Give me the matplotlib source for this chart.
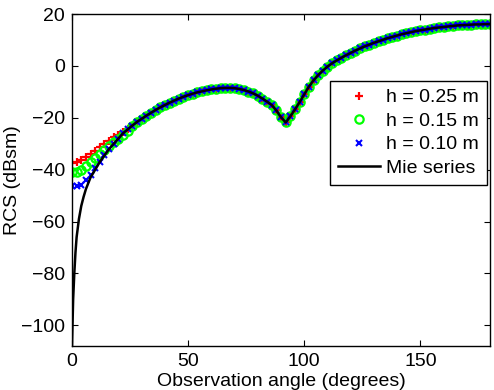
import numpy as np
import matplotlib
matplotlib.use('Agg')
import matplotlib.pyplot as plt

plt.rcParams['font.family'] = ['Liberation Sans', 'DejaVu Sans']

# Sampled observation angles (degrees) for the simulated data
angles = np.arange(0, 181, 2)

# Mie series values at the same angles (dBsm)
mie_vals = [
    -108.0, -66.0, -54.0, -47.5, -43.0, -40.0, -37.0, -34.5, -32.0, -30.0,
    -28.0, -26.0, -24.5, -23.0, -21.6, -20.4, -19.2, -18.1, -17.0, -16.0,
    -15.1, -14.2, -13.4, -12.6, -11.9, -11.3, -10.7, -10.2, -9.8, -9.4,
    -9.1, -8.8, -8.6, -8.5, -8.5, -8.6, -8.9, -9.3, -9.9, -10.6,
    -11.5, -12.6, -13.8, -15.1, -17.2, -19.8, -21.8, -19.5, -16.8, -14.0,
    -11.0, -8.0, -5.6, -3.6, -1.8, -0.3, 1.0, 2.1, 3.1, 4.1,
    5.0, 5.9, 6.7, 7.5, 8.2, 8.9, 9.5, 10.1, 10.7, 11.2,
    11.7, 12.2, 12.6, 13.0, 13.4, 13.7, 14.0, 14.3, 14.6, 14.8,
    15.0, 15.2, 15.4, 15.6, 15.7, 15.8, 15.9, 16.0, 16.0, 16.1,
    16.1,
]

# extra Mie points close to 0 deg where the curve falls steeply
mie_fine_angles = [0.0, 0.5, 1.0, 1.5, 2.0, 3.0, 4.0, 5.0]
mie_fine_vals = [-108.0, -90.0, -80.0, -72.0, -66.0, -59.0, -54.0, -50.5]

# Deviating leading values for each height (rest follow Mie series)
h25_head = [-37.5, -37.0, -36.3, -35.3, -34.0, -32.8, -31.3, -30.0, -28.8,
            -27.6, -26.5, -25.3, -24.2, -23.0]
h15_head = [-41.0, -41.0, -40.0, -38.5, -37.0, -35.5, -34.0, -32.5, -31.0,
            -29.5, -28.3, -26.5, -25.0]
h10_head = [-46.5, -46.5, -46.0, -44.0, -42.0, -39.5, -37.0]

h25 = h25_head + mie_vals[len(h25_head):]
h15 = h15_head + mie_vals[len(h15_head):]
h10 = h10_head + mie_vals[len(h10_head):]

mie_x = mie_fine_angles + list(angles[3:])
mie_y = mie_fine_vals + mie_vals[3:]

fs = 14

fig = plt.figure(figsize=(4.94, 3.90), dpi=100)
ax = fig.add_axes([0.1457, 0.1128, 0.8463, 0.8513])

ax.plot(angles, h25, linestyle='none', marker='+', color='red',
        markersize=5.5, markeredgewidth=1.6, label='h = 0.25 m')
ax.plot(angles, h15, linestyle='none', marker='o', color='lime',
        markerfacecolor='none', markersize=6, markeredgewidth=1.6,
        label='h = 0.15 m')
ax.plot(angles, h10, linestyle='none', marker='x', color='blue',
        markersize=4, markeredgewidth=1.5, label='h = 0.10 m')
ax.plot(mie_x, mie_y, color='black', linewidth=1.8, label='Mie series')

ax.set_xlim(0, 180)
ax.set_ylim(-108, 20)
ax.set_xticks([0, 50, 100, 150])
ax.set_yticks([-100, -80, -60, -40, -20, 0, 20])
ax.tick_params(direction='in', top=True, right=True, labelsize=fs,
               length=4, width=0.8, pad=5)
for s in ax.spines.values():
    s.set_linewidth(1.0)

ax.set_xlabel('Observation angle (degrees)', fontsize=fs, labelpad=2)
ax.set_ylabel('RCS (dBsm)', fontsize=fs, labelpad=0)

leg = ax.legend(loc='upper left', bbox_to_anchor=(0.617, 0.798),
                borderaxespad=0, fontsize=fs, fancybox=False,
                edgecolor='black', framealpha=1, handlelength=2.2,
                handletextpad=0.3, labelspacing=0.3, borderpad=0.4)
leg.get_frame().set_linewidth(1.0)

fig.savefig('out.png', dpi=100)
